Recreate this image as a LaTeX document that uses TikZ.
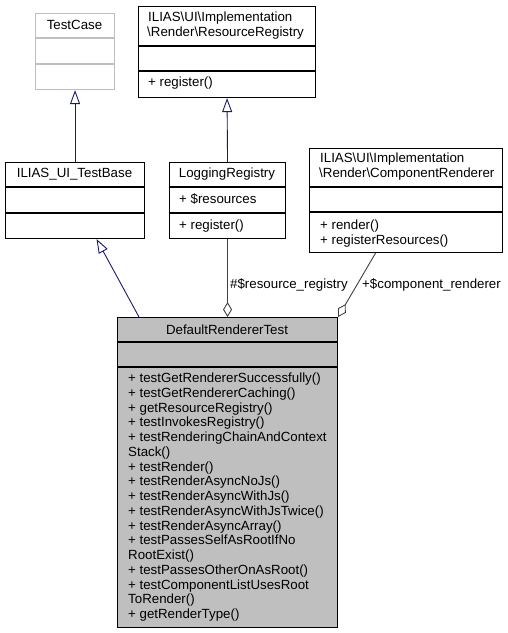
\documentclass[tikz,border=0pt]{standalone}
\usepackage{fontspec}
\setmainfont{Liberation Sans}
\usetikzlibrary{arrows.meta}
\definecolor{edgeblue}{HTML}{191970}
\definecolor{edgegray}{HTML}{404040}
\definecolor{boxgray}{HTML}{BFBFBF}
\begin{document}
\begin{tikzpicture}[x=1pt,y=-1pt,
  every node/.style={font=\fontsize{13.3}{14.75}\selectfont, inner sep=0pt},
  classbox/.style={draw=black, line width=1.1pt, fill=white, anchor=north west, minimum width=#1},
  txtl/.style={anchor=base west},
  txtc/.style={anchor=base},
  divider/.style={draw=black, line width=1.1pt},
  inherit/.style={draw=edgeblue, line width=0.9pt, -{Triangle[open, length=14pt, width=10pt, fill=white]}},
  aggr/.style={draw=edgegray, line width=0.9pt, -{Diamond[open, length=15pt, width=9pt, fill=white]}}
]
\useasboundingbox (0,0) rectangle (507,633);

% TestCase
\node[classbox=79pt, minimum height=76pt, draw=boxgray] (testcase) at (35,13) {};
\draw[boxgray, line width=1.1pt] (35,38) -- (114,38) (35,64) -- (114,64);
\node[txtc] (testcase-t) at (74.5,29.5) {TestCase};

% ResourceRegistry
\node[classbox=177pt, minimum height=91pt] (resreg) at (138,6) {};
\draw[divider] (138,46) -- (315,46) (138,71) -- (315,71);
\node[txtl] (resreg-t1) at (148,21.5) {ILIAS\textbackslash UI\textbackslash Implementation};
\node[txtl] (resreg-t2) at (147,36.5) {\textbackslash Render\textbackslash ResourceRegistry};
\node[txtl] (resreg-m1) at (148,86.5) {+ register()};

% ILIAS_UI_TestBase
\node[classbox=139pt, minimum height=76pt] (testbase) at (5,162) {};
\draw[divider] (5,187) -- (144,187) (5,213) -- (144,213);
\node[txtc] (testbase-t) at (74.5,177.5) {ILIAS\_UI\_TestBase};

% LoggingRegistry
\node[classbox=116pt, minimum height=76pt] (logging) at (169,162) {};
\draw[divider] (169,187) -- (285,187) (169,213) -- (285,213);
\node[txtc] (logging-t) at (227,177.5) {LoggingRegistry};
\node[txtl] (logging-a1) at (179,203.5) {+ \$resources};
\node[txtl] (logging-m1) at (179,229.5) {+ register()};

% ComponentRenderer
\node[classbox=193pt, minimum height=104pt] (comp) at (309,148) {};
\draw[divider] (309,187) -- (502,187) (309,212) -- (502,212);
\node[txtl] (comp-t1) at (320,162.5) {ILIAS\textbackslash UI\textbackslash Implementation};
\node[txtl] (comp-t2) at (319,177.5) {\textbackslash Render\textbackslash ComponentRenderer};
\node[txtl] (comp-m1) at (320,229.5) {+ render()};
\node[txtl] (comp-m2) at (320,244.25) {+ registerResources()};

% DefaultRendererTest
\node[classbox=220pt, minimum height=310pt, fill=boxgray] (main) at (117,317) {};
\draw[divider] (117,342) -- (337,342) (117,367) -- (337,367);
\node[txtc] (main-t) at (227,334.5) {DefaultRendererTest};
\foreach \txt [count=\i from 0] in {
  + testGetRendererSuccessfully(),
  + testGetRendererCaching(),
  + getResourceRegistry(),
  + testInvokesRegistry(),
  + testRenderingChainAndContext,
  Stack(),
  + testRender(),
  + testRenderAsyncNoJs(),
  + testRenderAsyncWithJs(),
  + testRenderAsyncWithJsTwice(),
  + testRenderAsyncArray(),
  + testPassesSelfAsRootIfNo,
  RootExist(),
  + testPassesOtherOnAsRoot(),
  + testComponentListUsesRoot,
  ToRender(),
  + getRenderType()}
  \node[txtl] (main-m\i) at (128,382.5+14.75*\i) {\txt};

% edges
\draw[inherit] (testbase.north) -- (testcase.south);
\draw[inherit] (logging.north) -- (resreg.south);
\draw[inherit] ([xshift=22pt]main.north west) -- ([xshift=21.5pt]testbase.south);
\draw[aggr] (logging.south) -- (main.north);
\draw[aggr] ([xshift=-30.5pt]comp.south) -- (main.north east);

% edge labels
\node[txtl] (lbl-res) at (230,288.5) {\#\$resource\_registry};
\node[txtl] (lbl-comp) at (362,288.5) {+\$component\_renderer};
\end{tikzpicture}
\end{document}
